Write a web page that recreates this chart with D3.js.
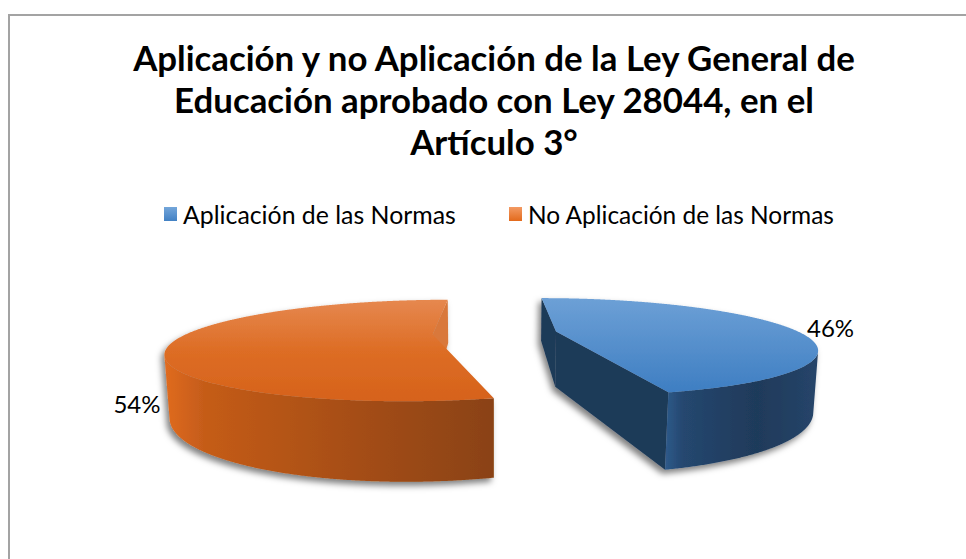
<!DOCTYPE html>
<html>
<head>
<meta charset="utf-8">
<script src="https://cdn.jsdelivr.net/npm/d3@7"></script>
<style>
  body { margin: 0; background: #fff; }
  svg { display: block; }
  text { font-family: Lato, "Open Sans", sans-serif; fill: #000; }
</style>
</head>
<body>
<div class="canva"></div>
<script>
// datos del grafico
const categorias = ["Aplicación de las Normas", "No Aplicación de las Normas"];
const valores = [46, 54];
const etiquetas = ["46%", "54%"];
const titulo = [
  "Aplicación y no Aplicación de la Ley General de",
  "Educación aprobado con Ley 28044, en el",
  "Artículo 3°"
];

// estilos (colores de cada porcion)
const colores = [
  { arriba: ["#6DA0D6", "#3E7EC2"], lado: ["#2E5A8A", "#25476F", "#1F3A5A", "#26456A"], pared: "#1F3A58", leyenda: ["#74A6DA", "#4281C4"] },
  { arriba: ["#E6884F", "#DD6D25", "#D6621B"], lado: ["#E06B20", "#C55C19", "#A44D15", "#8A4213"], pared: "#D9783A", leyenda: ["#F39A63", "#E36A1C"] }
];

document.addEventListener("DOMContentLoaded", function(event) {
  const W = 966, H = 559;

  const svg = d3.select(".canva")
    .append("svg")
    .attr("width", W)
    .attr("height", H);

  const defs = svg.append("defs");

  // borde del area del grafico
  svg.append("rect")
    .attr("x", 9).attr("y", 15)
    .attr("width", 1000).attr("height", 600)
    .attr("fill", "none")
    .attr("stroke", "#A3A3A3")
    .attr("stroke-width", 2);

  // ajusta el tamaño de letra para que el texto ocupe un ancho dado
  function ajustar(sel, tam, ancho) {
    sel.attr("font-size", tam);
    const l = sel.node().getComputedTextLength();
    sel.attr("font-size", tam * ancho / l);
  }

  // titulo
  const t = svg.append("g").attr("font-weight", "bold").attr("text-anchor", "middle");
  const lineas = t.selectAll("text")
    .data(titulo)
    .enter()
    .append("text")
    .attr("x", 494)
    .attr("y", (d, i) => 71 + i * 42)
    .text(d => d);
  ajustar(lineas.filter((d, i) => i === 0), 30, 722);
  const tamTitulo = lineas.filter((d, i) => i === 0).attr("font-size");
  lineas.attr("font-size", tamTitulo);

  // leyenda
  colores.forEach((c, i) => {
    const g = defs.append("linearGradient").attr("id", "ley" + i)
      .attr("x1", 0).attr("y1", 0).attr("x2", 0).attr("y2", 1);
    g.append("stop").attr("offset", 0).attr("stop-color", c.leyenda[0]);
    g.append("stop").attr("offset", 1).attr("stop-color", c.leyenda[1]);
  });
  const posLeyenda = [164, 509];
  const anchoLeyenda = [273, 306];
  const ley = svg.append("g").selectAll("g")
    .data(categorias)
    .enter()
    .append("g")
    .attr("transform", (d, i) => `translate(${posLeyenda[i]},207)`);
  ley.append("rect")
    .attr("width", 13).attr("height", 14)
    .attr("fill", (d, i) => `url(#ley${i})`);
  ley.append("text")
    .attr("x", 19).attr("y", 17)
    .text(d => d)
    .each(function(d, i) { ajustar(d3.select(this), 21, anchoLeyenda[i]); });

  // ---- pastel 3D con perspectiva ----
  const cam = { cx: 495, cy: 333, f: 767, D: 3.136, s: 0.183 };
  cam.c = Math.sqrt(1 - cam.s * cam.s);
  const grosor = 0.235, separacion = 0.254;

  const px = d3.scaleLinear().domain([0, 1]).range([cam.cx, cam.cx + cam.f]);
  const py = d3.scaleLinear().domain([0, 1]).range([cam.cy, cam.cy - cam.f]);

  function proyectar(p) {
    const [X, Y, Z] = p;
    const yc = Y * cam.c + Z * cam.s;
    const zc = Z * cam.c - Y * cam.s + cam.D;
    return [px(X / zc), py(yc / zc)];
  }
  const camara = [0, cam.D * cam.s, -cam.D * cam.c];
  function visible(p, n) {
    return (camara[0] - p[0]) * n[0] + (camara[1] - p[1]) * n[1] + (camara[2] - p[2]) * n[2] > 0;
  }

  const linea = d3.line();
  const arcos = d3.pie().sort(null).value(d => d)(valores);

  // filtro de sombra
  const sombra = defs.append("filter").attr("id", "sombra")
    .attr("x", "-20%").attr("y", "-20%").attr("width", "140%").attr("height", "150%");
  sombra.append("feDropShadow")
    .attr("dx", -3).attr("dy", 4).attr("stdDeviation", 3)
    .attr("flood-color", "#000").attr("flood-opacity", 0.5);

  const pastel = svg.append("g");

  arcos.forEach((d, i) => {
    const c = colores[i];
    const medio = (d.startAngle + d.endAngle) / 2;
    const ox = separacion * Math.sin(medio), oz = separacion * Math.cos(medio);
    const punto = (a, r, Y) => [ox + r * Math.sin(a), Y, oz + r * Math.cos(a)];

    const n = Math.ceil((d.endAngle - d.startAngle) / 0.005);
    const angs = d3.range(n + 1).map(k => d.startAngle + (d.endAngle - d.startAngle) * k / n);

    // gradientes
    const gA = defs.append("linearGradient").attr("id", "arriba" + i)
      .attr("x1", 0).attr("y1", 0).attr("x2", 0).attr("y2", 1);
    c.arriba.forEach((col, k) => gA.append("stop").attr("offset", k / (c.arriba.length - 1)).attr("stop-color", col));
    const gL = defs.append("linearGradient").attr("id", "lado" + i)
      .attr("x1", 0).attr("y1", 0).attr("x2", 1).attr("y2", 0);
    const offs = [0, 0.12, 0.6, 1];
    c.lado.forEach((col, k) => gL.append("stop").attr("offset", offs[k]).attr("stop-color", col));

    const g = pastel.append("g").attr("filter", "url(#sombra)");

    // paredes rectas (radios)
    [[d.startAngle, -1], [d.endAngle, 1]].forEach(([a, sg]) => {
      const normal = [sg * Math.cos(a), 0, -sg * Math.sin(a)];
      if (!visible(punto(a, 0.5, -grosor / 2), normal)) return;
      const pts = [punto(a, 0, 0), punto(a, 1, 0), punto(a, 1, -grosor), punto(a, 0, -grosor)].map(proyectar);
      g.append("path").attr("d", linea(pts) + "Z").attr("fill", c.pared);
    });

    // pared curva: solo la parte que mira a la camara
    const vis = angs.map(a => visible(punto(a, 1, -grosor / 2), [Math.sin(a), 0, Math.cos(a)]));
    let tramo = [];
    const tramos = [];
    angs.forEach((a, k) => {
      if (vis[k]) tramo.push(a);
      else if (tramo.length) { tramos.push(tramo); tramo = []; }
    });
    if (tramo.length) tramos.push(tramo);
    tramos.forEach(tr => {
      const pts = tr.map(a => proyectar(punto(a, 1, 0)))
        .concat(tr.slice().reverse().map(a => proyectar(punto(a, 1, -grosor))));
      g.append("path").attr("d", linea(pts) + "Z").attr("fill", `url(#lado${i})`);
    });

    // cara superior
    const sup = [proyectar(punto(0, 0, 0))]
      .concat(angs.map(a => proyectar(punto(a, 1, 0))));
    g.append("path").attr("d", linea(sup) + "Z").attr("fill", `url(#arriba${i})`);

    // etiqueta de porcentaje
    if (i === 0) {
      const p = proyectar(punto(medio, 1, 0));
      svg.append("text").attr("x", p[0] + 22).attr("y", p[1] + 11)
        .attr("font-size", 24).text(etiquetas[i]);
    } else {
      const p = proyectar(punto(medio, 1, -grosor));
      svg.append("text").attr("x", p[0] - 19).attr("y", p[1] + 14)
        .attr("text-anchor", "end").attr("font-size", 24).text(etiquetas[i]);
    }
  });
});
</script>
</body>
</html>
